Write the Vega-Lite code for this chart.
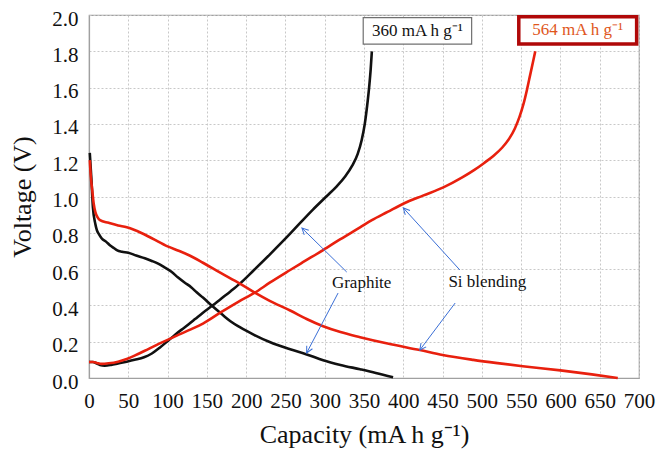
{
  "$schema": "https://vega.github.io/schema/vega-lite/v6.json",
  "width": 550,
  "height": 363,
  "autosize": "none",
  "padding": {"left": 89, "top": 15, "right": 33, "bottom": 78},
  "background": "white",
  "config": {
    "view": {"stroke": "#a0a0a0", "strokeWidth": 1.2},
    "axis": {"labelFont": "Liberation Serif, DejaVu Serif, serif", "titleFont": "Liberation Serif"},
    "style": {"guide-label": {"font": "Liberation Serif, DejaVu Serif, serif"}}
  },
  "datasets": {
    "curves": [
      {"series": "Graphite discharge", "cap": 1, "v": 1.24},
      {"series": "Graphite discharge", "cap": 3, "v": 1.10},
      {"series": "Graphite discharge", "cap": 5, "v": 0.94},
      {"series": "Graphite discharge", "cap": 8, "v": 0.85},
      {"series": "Graphite discharge", "cap": 10, "v": 0.815},
      {"series": "Graphite discharge", "cap": 13, "v": 0.79},
      {"series": "Graphite discharge", "cap": 16, "v": 0.77},
      {"series": "Graphite discharge", "cap": 22, "v": 0.75},
      {"series": "Graphite discharge", "cap": 27, "v": 0.73},
      {"series": "Graphite discharge", "cap": 32, "v": 0.715},
      {"series": "Graphite discharge", "cap": 36, "v": 0.703},
      {"series": "Graphite discharge", "cap": 42, "v": 0.696},
      {"series": "Graphite discharge", "cap": 50, "v": 0.69},
      {"series": "Graphite discharge", "cap": 60, "v": 0.675},
      {"series": "Graphite discharge", "cap": 71, "v": 0.66},
      {"series": "Graphite discharge", "cap": 80, "v": 0.645},
      {"series": "Graphite discharge", "cap": 88, "v": 0.63},
      {"series": "Graphite discharge", "cap": 96, "v": 0.61},
      {"series": "Graphite discharge", "cap": 105, "v": 0.585},
      {"series": "Graphite discharge", "cap": 113, "v": 0.555},
      {"series": "Graphite discharge", "cap": 122, "v": 0.525},
      {"series": "Graphite discharge", "cap": 130, "v": 0.5},
      {"series": "Graphite discharge", "cap": 137, "v": 0.472},
      {"series": "Graphite discharge", "cap": 145, "v": 0.443},
      {"series": "Graphite discharge", "cap": 158, "v": 0.392},
      {"series": "Graphite discharge", "cap": 170, "v": 0.348},
      {"series": "Graphite discharge", "cap": 180, "v": 0.313},
      {"series": "Graphite discharge", "cap": 192, "v": 0.28},
      {"series": "Graphite discharge", "cap": 210, "v": 0.238},
      {"series": "Graphite discharge", "cap": 230, "v": 0.198},
      {"series": "Graphite discharge", "cap": 256, "v": 0.158},
      {"series": "Graphite discharge", "cap": 277, "v": 0.13},
      {"series": "Graphite discharge", "cap": 298, "v": 0.098},
      {"series": "Graphite discharge", "cap": 320, "v": 0.072},
      {"series": "Graphite discharge", "cap": 345, "v": 0.048},
      {"series": "Graphite discharge", "cap": 365, "v": 0.028},
      {"series": "Graphite discharge", "cap": 387, "v": 0.004},
      {"series": "Graphite charge", "cap": 0, "v": 0.088},
      {"series": "Graphite charge", "cap": 5, "v": 0.088},
      {"series": "Graphite charge", "cap": 10, "v": 0.08},
      {"series": "Graphite charge", "cap": 14, "v": 0.072},
      {"series": "Graphite charge", "cap": 20, "v": 0.068},
      {"series": "Graphite charge", "cap": 28, "v": 0.072},
      {"series": "Graphite charge", "cap": 37, "v": 0.08},
      {"series": "Graphite charge", "cap": 48, "v": 0.09},
      {"series": "Graphite charge", "cap": 58, "v": 0.1},
      {"series": "Graphite charge", "cap": 70, "v": 0.114},
      {"series": "Graphite charge", "cap": 80, "v": 0.135},
      {"series": "Graphite charge", "cap": 90, "v": 0.167},
      {"series": "Graphite charge", "cap": 100, "v": 0.203},
      {"series": "Graphite charge", "cap": 110, "v": 0.24},
      {"series": "Graphite charge", "cap": 122, "v": 0.28},
      {"series": "Graphite charge", "cap": 135, "v": 0.325},
      {"series": "Graphite charge", "cap": 145, "v": 0.36},
      {"series": "Graphite charge", "cap": 158, "v": 0.402},
      {"series": "Graphite charge", "cap": 167, "v": 0.433},
      {"series": "Graphite charge", "cap": 180, "v": 0.477},
      {"series": "Graphite charge", "cap": 192, "v": 0.52},
      {"series": "Graphite charge", "cap": 210, "v": 0.595},
      {"series": "Graphite charge", "cap": 230, "v": 0.68},
      {"series": "Graphite charge", "cap": 256, "v": 0.795},
      {"series": "Graphite charge", "cap": 270, "v": 0.86},
      {"series": "Graphite charge", "cap": 285, "v": 0.928},
      {"series": "Graphite charge", "cap": 302, "v": 1.0},
      {"series": "Graphite charge", "cap": 315, "v": 1.055},
      {"series": "Graphite charge", "cap": 326, "v": 1.11},
      {"series": "Graphite charge", "cap": 335, "v": 1.17},
      {"series": "Graphite charge", "cap": 342, "v": 1.235},
      {"series": "Graphite charge", "cap": 347, "v": 1.31},
      {"series": "Graphite charge", "cap": 351, "v": 1.4},
      {"series": "Graphite charge", "cap": 354, "v": 1.5},
      {"series": "Graphite charge", "cap": 356.5, "v": 1.6},
      {"series": "Graphite charge", "cap": 358.5, "v": 1.7},
      {"series": "Graphite charge", "cap": 360, "v": 1.8},
      {"series": "Si discharge", "cap": 1, "v": 1.2},
      {"series": "Si discharge", "cap": 2.5, "v": 1.1},
      {"series": "Si discharge", "cap": 4, "v": 1.04},
      {"series": "Si discharge", "cap": 6, "v": 0.96},
      {"series": "Si discharge", "cap": 8, "v": 0.915},
      {"series": "Si discharge", "cap": 11, "v": 0.885},
      {"series": "Si discharge", "cap": 14, "v": 0.87},
      {"series": "Si discharge", "cap": 25, "v": 0.855},
      {"series": "Si discharge", "cap": 37, "v": 0.84},
      {"series": "Si discharge", "cap": 48, "v": 0.83},
      {"series": "Si discharge", "cap": 58, "v": 0.815},
      {"series": "Si discharge", "cap": 80, "v": 0.77},
      {"series": "Si discharge", "cap": 100, "v": 0.725},
      {"series": "Si discharge", "cap": 115, "v": 0.7},
      {"series": "Si discharge", "cap": 128, "v": 0.675},
      {"series": "Si discharge", "cap": 145, "v": 0.635},
      {"series": "Si discharge", "cap": 167, "v": 0.58},
      {"series": "Si discharge", "cap": 192, "v": 0.52},
      {"series": "Si discharge", "cap": 211, "v": 0.47},
      {"series": "Si discharge", "cap": 230, "v": 0.425},
      {"series": "Si discharge", "cap": 256, "v": 0.372},
      {"series": "Si discharge", "cap": 277, "v": 0.325},
      {"series": "Si discharge", "cap": 298, "v": 0.285},
      {"series": "Si discharge", "cap": 320, "v": 0.253},
      {"series": "Si discharge", "cap": 345, "v": 0.225},
      {"series": "Si discharge", "cap": 380, "v": 0.19},
      {"series": "Si discharge", "cap": 421, "v": 0.154},
      {"series": "Si discharge", "cap": 450, "v": 0.127},
      {"series": "Si discharge", "cap": 489, "v": 0.1},
      {"series": "Si discharge", "cap": 520, "v": 0.082},
      {"series": "Si discharge", "cap": 552, "v": 0.065},
      {"series": "Si discharge", "cap": 600, "v": 0.042},
      {"series": "Si discharge", "cap": 640, "v": 0.02},
      {"series": "Si discharge", "cap": 673, "v": 0.0},
      {"series": "Si charge", "cap": 0, "v": 0.088},
      {"series": "Si charge", "cap": 5, "v": 0.088},
      {"series": "Si charge", "cap": 10, "v": 0.083},
      {"series": "Si charge", "cap": 16, "v": 0.078},
      {"series": "Si charge", "cap": 25, "v": 0.081},
      {"series": "Si charge", "cap": 37, "v": 0.09},
      {"series": "Si charge", "cap": 48, "v": 0.105},
      {"series": "Si charge", "cap": 58, "v": 0.123},
      {"series": "Si charge", "cap": 71, "v": 0.15},
      {"series": "Si charge", "cap": 85, "v": 0.18},
      {"series": "Si charge", "cap": 100, "v": 0.21},
      {"series": "Si charge", "cap": 115, "v": 0.24},
      {"series": "Si charge", "cap": 128, "v": 0.265},
      {"series": "Si charge", "cap": 145, "v": 0.3},
      {"series": "Si charge", "cap": 167, "v": 0.36},
      {"series": "Si charge", "cap": 190, "v": 0.42},
      {"series": "Si charge", "cap": 211, "v": 0.47},
      {"series": "Si charge", "cap": 230, "v": 0.525},
      {"series": "Si charge", "cap": 256, "v": 0.595},
      {"series": "Si charge", "cap": 270, "v": 0.632},
      {"series": "Si charge", "cap": 298, "v": 0.705},
      {"series": "Si charge", "cap": 320, "v": 0.765},
      {"series": "Si charge", "cap": 345, "v": 0.83},
      {"series": "Si charge", "cap": 360, "v": 0.87},
      {"series": "Si charge", "cap": 380, "v": 0.915},
      {"series": "Si charge", "cap": 400, "v": 0.96},
      {"series": "Si charge", "cap": 425, "v": 1.005},
      {"series": "Si charge", "cap": 451, "v": 1.05},
      {"series": "Si charge", "cap": 475, "v": 1.105},
      {"series": "Si charge", "cap": 490, "v": 1.145},
      {"series": "Si charge", "cap": 503, "v": 1.185},
      {"series": "Si charge", "cap": 515, "v": 1.225},
      {"series": "Si charge", "cap": 526, "v": 1.27},
      {"series": "Si charge", "cap": 535, "v": 1.32},
      {"series": "Si charge", "cap": 542, "v": 1.375},
      {"series": "Si charge", "cap": 548, "v": 1.44},
      {"series": "Si charge", "cap": 553, "v": 1.51},
      {"series": "Si charge", "cap": 557.5, "v": 1.59},
      {"series": "Si charge", "cap": 561.5, "v": 1.67},
      {"series": "Si charge", "cap": 565, "v": 1.74},
      {"series": "Si charge", "cap": 568, "v": 1.8}
    ],
    "arrows": [
      {"id": "g1", "cap": 328, "v": 0.584, "cap2": 271, "v2": 0.826},
      {"id": "g2", "cap": 317, "v": 0.468, "cap2": 277, "v2": 0.138},
      {"id": "s1", "cap": 472, "v": 0.595, "cap2": 400, "v2": 0.937},
      {"id": "s2", "cap": 466, "v": 0.413, "cap2": 421, "v2": 0.154}
    ],
    "heads": [
      {"id": "g1", "cap": 271, "v": 0.826},
      {"id": "g2", "cap": 277, "v": 0.138},
      {"id": "s1", "cap": 400, "v": 0.937},
      {"id": "s2", "cap": 421, "v": 0.154}
    ],
    "boxes": [
      {"id": "graphite", "cap": 349, "cap2": 487, "v": 1.985, "v2": 1.84},
      {"id": "si", "cap": 547, "cap2": 697, "v": 1.99, "v2": 1.84}
    ],
    "boxlabels": [
      {"id": "graphite", "label": "360 mA h g⁻¹", "cap": 418, "v": 1.912},
      {"id": "si", "label": "564 mA h g⁻¹", "cap": 622, "v": 1.915}
    ],
    "labels": [
      {"label": "Graphite", "cap": 347, "v": 0.526},
      {"label": "Si  blending", "cap": 507, "v": 0.529}
    ]
  },
  "encoding": {
    "x": {"field": "cap", "type": "quantitative",
          "scale": {"domain": [0, 700], "nice": false},
          "axis": {"values": [0, 50, 100, 150, 200, 250, 300, 350, 400, 450, 500, 550, 600, 650, 700],
                   "labelOverlap": false, "labelFlush": false,
                   "labelFont": "Liberation Serif, DejaVu Serif, serif", "labelFontSize": 21, "labelColor": "#111",
                   "title": "Capacity (mA h g⁻¹)", "titleFont": "Liberation Serif", "titleFontSize": 26,
                   "titleFontWeight": "normal", "titleColor": "#111",
                   "labelPadding": 12, "titlePadding": 10,
                   "gridColor": "#c8c8c8", "gridDash": [2, 2], "gridWidth": 1,
                   "domainColor": "#a0a0a0", "domainWidth": 1.2,
                   "tickSize": 0}},
    "y": {"field": "v", "type": "quantitative",
          "scale": {"domain": [0, 2], "nice": false},
          "axis": {"values": [0, 0.2, 0.4, 0.6, 0.8, 1.0, 1.2, 1.4, 1.6, 1.8, 2.0], "format": ".1f",
                   "labelOverlap": false, "labelFlush": false,
                   "labelFont": "Liberation Serif, DejaVu Serif, serif", "labelFontSize": 21, "labelColor": "#111",
                   "title": "Voltage (V)", "titleFont": "Liberation Serif", "titleFontSize": 26,
                   "titleFontWeight": "normal", "titleColor": "#111",
                   "labelPadding": 11, "titlePadding": 16, "labelOffset": 4,
                   "gridColor": "#c8c8c8", "gridDash": [2, 2], "gridWidth": 1,
                   "domainColor": "#a0a0a0", "domainWidth": 1.2,
                   "tickSize": 0}}
  },
  "layer": [
    {
      "data": {"name": "curves"},
      "mark": {"type": "line", "strokeWidth": 2.6, "interpolate": "monotone"},
      "encoding": {
        "detail": {"field": "series"},
        "color": {"field": "series", "type": "nominal",
                  "scale": {"domain": ["Graphite discharge", "Graphite charge", "Si discharge", "Si charge"],
                            "range": ["#111111", "#111111", "#e8200e", "#e8200e"]},
                  "legend": null},
        "order": {"field": "cap", "type": "quantitative"}
      }
    },
    {
      "data": {"name": "arrows"},
      "mark": {"type": "rule", "color": "#3b6fd6", "strokeWidth": 1},
      "encoding": {
        "x2": {"field": "cap2"},
        "y2": {"field": "v2"}
      }
    },
    {
      "data": {"name": "heads"},
      "transform": [{"filter": "datum.id === 'g1'"}],
      "mark": {"type": "point", "shape": "M -0.8 1.6 L 0 0 L 0.8 1.6", "filled": false, "size": 64, "color": "#3b6fd6", "strokeWidth": 1, "angle": 314.4, "opacity": 1},
      "encoding": {}
    },
    {
      "data": {"name": "heads"},
      "transform": [{"filter": "datum.id === 'g2'"}],
      "mark": {"type": "point", "shape": "M -0.8 1.6 L 0 0 L 0.8 1.6", "filled": false, "size": 64, "color": "#3b6fd6", "strokeWidth": 1, "angle": 207.3, "opacity": 1},
      "encoding": {}
    },
    {
      "data": {"name": "heads"},
      "transform": [{"filter": "datum.id === 's1'"}],
      "mark": {"type": "point", "shape": "M -0.8 1.6 L 0 0 L 0.8 1.6", "filled": false, "size": 64, "color": "#3b6fd6", "strokeWidth": 1, "angle": 317.4, "opacity": 1},
      "encoding": {}
    },
    {
      "data": {"name": "heads"},
      "transform": [{"filter": "datum.id === 's2'"}],
      "mark": {"type": "point", "shape": "M -0.8 1.6 L 0 0 L 0.8 1.6", "filled": false, "size": 64, "color": "#3b6fd6", "strokeWidth": 1, "angle": 216.7, "opacity": 1},
      "encoding": {}
    },
    {
      "data": {"name": "labels"},
      "mark": {"type": "text", "font": "Liberation Serif", "fontSize": 17, "color": "#111", "baseline": "middle", "align": "center"},
      "encoding": {
        "text": {"field": "label"}
      }
    },
    {
      "data": {"name": "boxes"},
      "transform": [{"filter": "datum.id === 'graphite'"}],
      "mark": {"type": "rect", "fill": "white", "stroke": "#707070", "strokeWidth": 1.2},
      "encoding": {
        "x2": {"field": "cap2"},
        "y2": {"field": "v2"}
      }
    },
    {
      "data": {"name": "boxes"},
      "transform": [{"filter": "datum.id === 'si'"}],
      "mark": {"type": "rect", "fill": "white", "stroke": "#b00808", "strokeWidth": 3.5},
      "encoding": {
        "x2": {"field": "cap2"},
        "y2": {"field": "v2"}
      }
    },
    {
      "data": {"name": "boxlabels"},
      "mark": {"type": "text", "font": "Liberation Serif", "fontSize": 17, "baseline": "middle", "align": "center"},
      "encoding": {
        "text": {"field": "label"},
        "color": {"field": "id", "type": "nominal",
                  "scale": {"domain": ["graphite", "si"], "range": ["#111111", "#e0561c"]},
                  "legend": null}
      }
    }
  ],
  "resolve": {"scale": {"color": "independent"}}
}
